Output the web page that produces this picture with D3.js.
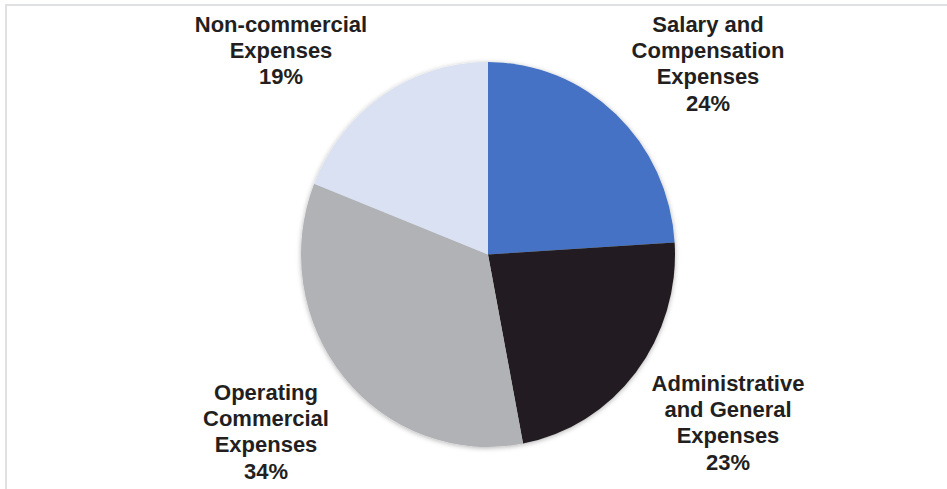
<!DOCTYPE html>
<html>
<head>
<meta charset="utf-8">
<script src="https://cdn.jsdelivr.net/npm/d3@7"></script>
<style>
  html, body { margin: 0; padding: 0; background: #ffffff; }
  svg { display: block; }
</style>
</head>
<body>
<svg id="chart" width="947" height="489"></svg>
<script>
// Expense structure, share of total (%)
const categories = [
  ["Salary and", "Compensation", "Expenses"],
  ["Administrative", "and General", "Expenses"],
  ["Operating", "Commercial", "Expenses"],
  ["Non-commercial", "Expenses"]
];
const shares = [24, 23, 34, 19];
const sliceColors = ["#4472c4", "#231f20", "#b1b2b5", "#d9e1f2"];

// Label block anchors: centre x and baseline of the first line
const labelAnchors = [
  { x: 708, y: 31.5 },
  { x: 728, y: 390.5 },
  { x: 266, y: 399.5 },
  { x: 281, y: 31.5 }
];

const W = 947, H = 489;
const cx = 488, cy = 254.5;
const rx = 187, ry = 192.5;
const lineH = 26.4;

const svg = d3.select("#chart");

// soft outer shadow around the pie
const defs = svg.append("defs");
const f = defs.append("filter").attr("id", "pieShadow")
  .attr("x", "-10%").attr("y", "-10%").attr("width", "120%").attr("height", "120%");
f.append("feDropShadow")
  .attr("dx", 0).attr("dy", 1)
  .attr("stdDeviation", 2.5)
  .attr("flood-color", "#000").attr("flood-opacity", 0.3);

// frame lines (top and left)
svg.append("line").attr("x1", 5).attr("x2", W).attr("y1", 5).attr("y2", 5)
  .attr("stroke", "#dfe1e2").attr("stroke-width", 2);
svg.append("line").attr("x1", 6).attr("x2", 6).attr("y1", 5).attr("y2", H)
  .attr("stroke", "#dfe1e2").attr("stroke-width", 2);

const pie = d3.pie().sort(null).value(d => d);
const arcs = pie(shares);
const arc = d3.arc().innerRadius(0).outerRadius(rx);

const g = svg.append("g")
  .attr("transform", `translate(${cx},${cy}) scale(1,${ry / rx})`)
  .attr("filter", "url(#pieShadow)");

g.selectAll("path")
  .data(arcs)
  .join("path")
  .attr("d", arc)
  .attr("fill", (d, i) => sliceColors[i]);

// category labels with percentage
const labels = svg.append("g")
  .attr("font-family", "'Liberation Sans', Arial, sans-serif")
  .attr("font-weight", "bold")
  .attr("font-size", 22)
  .attr("fill", "#231f20")
  .attr("text-anchor", "middle");

arcs.forEach((d, i) => {
  const lines = categories[i].concat([`${shares[i]}%`]);
  const t = labels.append("text")
    .attr("x", labelAnchors[i].x)
    .attr("y", labelAnchors[i].y);
  lines.forEach((s, k) => {
    t.append("tspan")
      .attr("x", labelAnchors[i].x)
      .attr("y", labelAnchors[i].y + k * lineH)
      .text(s);
  });
});
</script>
</body>
</html>
